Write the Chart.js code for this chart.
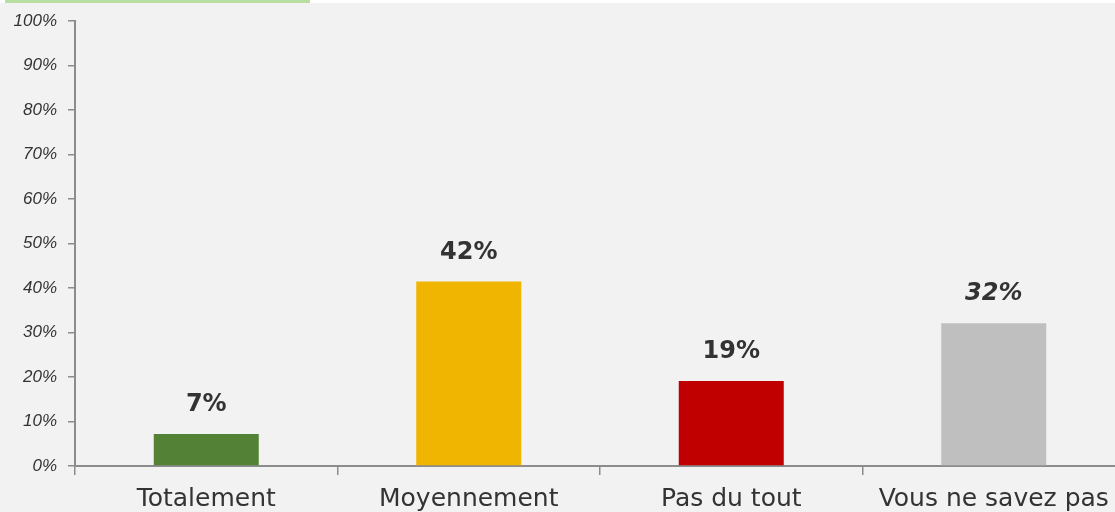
<!DOCTYPE html>
<html>
<head>
<meta charset="utf-8">
<script src="https://cdn.jsdelivr.net/npm/chart.js@4"></script>
<style>
  html, body { margin: 0; padding: 0; background: #f2f2f2; overflow: hidden; }
  .topline { position: absolute; top: 0; left: 0; width: 1115px; height: 3px; background: #ffffff; }
  .topline span { position: absolute; left: 5px; width: 305px; height: 3px; background: #b9dea1; }
  .wrap { position: absolute; top: 0; left: 0; width: 1125px; height: 512px; }
</style>
</head>
<body>
<div class="topline"><span></span></div>
<div class="wrap"><canvas id="chart"></canvas></div>
<script>
// categories and values
const categories = ['Totalement', 'Moyennement', 'Pas du tout', 'Vous ne savez pas'];
const values = [7.2, 41.5, 19.1, 32.1];
const valueLabels = ['7%', '42%', '19%', '32%'];
const italicLabel = [false, false, false, true];
const barColors = ['#538135', '#efb500', '#c00000', '#bfbfbf'];
const yTicks = [0, 10, 20, 30, 40, 50, 60, 70, 80, 90, 100];

const FONT = "'DejaVu Sans', sans-serif";
const AXIS = '#8c8c8c';

// bar value labels
const valueLabelPlugin = {
    id: 'valueLabels',
    afterDatasetsDraw(chart) {
        const ctx = chart.ctx;
        const meta = chart.getDatasetMeta(0);
        ctx.save();
        ctx.fillStyle = '#333333';
        ctx.textAlign = 'center';
        ctx.textBaseline = 'middle';
        meta.data.forEach((bar, i) => {
            ctx.font = (italicLabel[i] ? 'italic ' : '') + 'bold 24px ' + FONT;
            ctx.fillText(valueLabels[i], bar.x, bar.y - 29);
        });
        ctx.restore();
    }
};

new Chart(document.getElementById('chart'), {
    type: 'bar',
    data: {
        labels: categories,
        datasets: [{
            data: values,
            backgroundColor: barColors,
            borderWidth: 0,
            categoryPercentage: 0.4,
            barPercentage: 1
        }]
    },
    options: {
        responsive: true,
        maintainAspectRatio: false,
        animation: false,
        layout: { padding: { top: 20, left: 0, right: 0, bottom: 0 } },
        plugins: { legend: { display: false }, tooltip: { enabled: false } },
        scales: {
            x: {
                grid: {
                    display: true,
                    drawOnChartArea: false,
                    drawTicks: true,
                    tickLength: 9,
                    offset: true,
                    color: AXIS,
                    lineWidth: 1.5
                },
                border: { display: true, color: AXIS, width: 2 },
                ticks: {
                    color: '#333333',
                    padding: 9,
                    maxRotation: 0,
                    font: { family: FONT, size: 25 }
                },
                afterFit(scale) { scale.height = 46; }
            },
            y: {
                min: 0,
                max: 100,
                afterBuildTicks(scale) { scale.ticks = yTicks.map(v => ({ value: v })); },
                grid: {
                    display: true,
                    drawOnChartArea: false,
                    drawTicks: true,
                    tickLength: 7,
                    color: AXIS,
                    lineWidth: 1.5
                },
                border: { display: true, color: AXIS, width: 2 },
                ticks: {
                    color: '#333333',
                    padding: 11,
                    font: { family: "'Liberation Sans', sans-serif", size: 17, style: 'italic' },
                    callback: v => v + '%'
                },
                afterFit(scale) { scale.width = 75; }
            }
        }
    },
    plugins: [valueLabelPlugin]
});
</script>
</body>
</html>
